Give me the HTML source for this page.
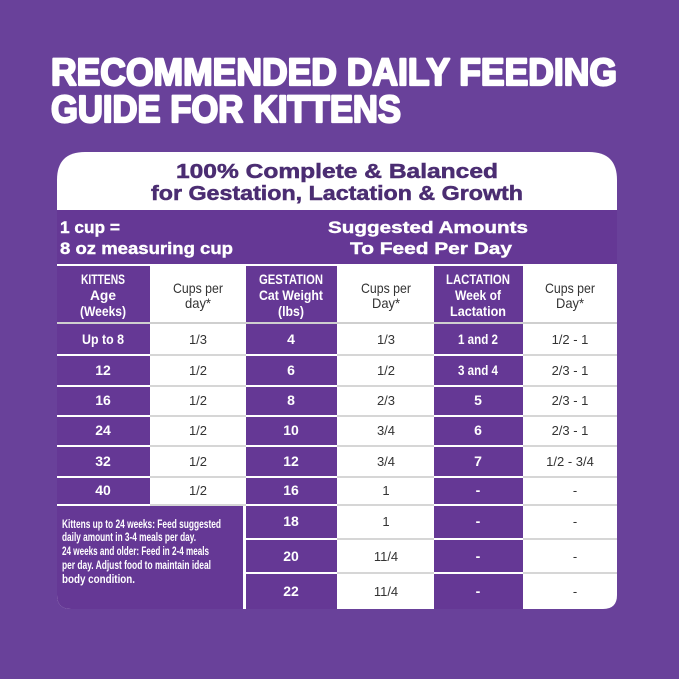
<!DOCTYPE html><html><head><style>body{margin:0;background:#69419a}svg{display:block}</style></head><body>
<svg width="679" height="679" viewBox="0 0 679 679" xmlns="http://www.w3.org/2000/svg" font-family="Liberation Sans, sans-serif" font-weight="bold">
<defs><clipPath id="c"><path d="M85,152 H589 Q617,152 617,180 V595 Q617,609 603,609 H71 Q57,609 57,595 V180 Q57,152 85,152 Z"/></clipPath></defs>
<rect width="679" height="679" fill="#69419a"/>
<g fill="#fff" stroke="#fff" stroke-width="2.2" stroke-linejoin="round">
<text x="51" y="85" font-size="38" textLength="566" lengthAdjust="spacingAndGlyphs">RECOMMENDED DAILY FEEDING</text>
<text x="51" y="122" font-size="38" textLength="350" lengthAdjust="spacingAndGlyphs">GUIDE FOR KITTENS</text>
</g>
<g clip-path="url(#c)">
<rect x="57" y="152" width="560" height="457" fill="#fff"/>
<rect x="57" y="210" width="560" height="54" fill="#653895"/>
<g fill="#653895">
<rect x="57" y="266" width="93" height="56"/><rect x="246" y="266" width="91" height="56"/><rect x="434" y="266" width="89" height="56"/>
</g>
<rect x="57" y="322" width="560" height="2" fill="#cfcfcf"/>
<g fill="#653895">
<rect x="57" y="324" width="93" height="30"/><rect x="57" y="356" width="93" height="29"/><rect x="57" y="387" width="93" height="28"/><rect x="57" y="417" width="93" height="28"/><rect x="57" y="447" width="93" height="29"/><rect x="57" y="478" width="93" height="26"/>
<rect x="57" y="506" width="186" height="103"/>
<rect x="246" y="324" width="91" height="30"/><rect x="246" y="356" width="91" height="29"/><rect x="246" y="387" width="91" height="28"/><rect x="246" y="417" width="91" height="28"/><rect x="246" y="447" width="91" height="29"/><rect x="246" y="478" width="91" height="26"/><rect x="246" y="506" width="91" height="32"/><rect x="246" y="540" width="91" height="32"/><rect x="246" y="574" width="91" height="35"/>
<rect x="434" y="324" width="89" height="30"/><rect x="434" y="356" width="89" height="29"/><rect x="434" y="387" width="89" height="28"/><rect x="434" y="417" width="89" height="28"/><rect x="434" y="447" width="89" height="29"/><rect x="434" y="478" width="89" height="26"/><rect x="434" y="506" width="89" height="32"/><rect x="434" y="540" width="89" height="32"/><rect x="434" y="574" width="89" height="35"/>
</g>
<g fill="#d6d6d6">
<rect x="150" y="354" width="96" height="2"/><rect x="150" y="385" width="96" height="2"/><rect x="150" y="415" width="96" height="2"/><rect x="150" y="445" width="96" height="2"/><rect x="150" y="476" width="96" height="2"/><rect x="150" y="504" width="96" height="2"/>
<rect x="337" y="354" width="97" height="2"/><rect x="337" y="385" width="97" height="2"/><rect x="337" y="415" width="97" height="2"/><rect x="337" y="445" width="97" height="2"/><rect x="337" y="476" width="97" height="2"/><rect x="337" y="504" width="97" height="2"/><rect x="337" y="538" width="97" height="2"/><rect x="337" y="572" width="97" height="2"/>
<rect x="523" y="354" width="94" height="2"/><rect x="523" y="385" width="94" height="2"/><rect x="523" y="415" width="94" height="2"/><rect x="523" y="445" width="94" height="2"/><rect x="523" y="476" width="94" height="2"/><rect x="523" y="504" width="94" height="2"/><rect x="523" y="538" width="94" height="2"/><rect x="523" y="572" width="94" height="2"/>
</g>
</g>
<g fill="#4b2d72" stroke="#4b2d72" stroke-width="0.5" text-anchor="middle" font-size="20">
<text x="337" y="178" textLength="322" lengthAdjust="spacingAndGlyphs">100% Complete &amp; Balanced</text>
<text x="337" y="200" textLength="372" lengthAdjust="spacingAndGlyphs">for Gestation, Lactation &amp; Growth</text>
</g>
<g fill="#fff" stroke="#fff" stroke-width="0.4" font-size="17">
<text x="60" y="233" textLength="60" lengthAdjust="spacingAndGlyphs">1 cup =</text>
<text x="60" y="254" textLength="173" lengthAdjust="spacingAndGlyphs">8 oz measuring cup</text>
<text x="428" y="233" text-anchor="middle" textLength="200" lengthAdjust="spacingAndGlyphs">Suggested Amounts</text>
<text x="431" y="254" text-anchor="middle" textLength="162" lengthAdjust="spacingAndGlyphs">To Feed Per Day</text>
</g>
<g font-size="14" text-anchor="middle" fill="#fff">
<text x="103" y="284" textLength="44" lengthAdjust="spacingAndGlyphs">KITTENS</text>
<text x="103" y="300" textLength="26" lengthAdjust="spacingAndGlyphs">Age</text>
<text x="103" y="316" textLength="46" lengthAdjust="spacingAndGlyphs">(Weeks)</text>
<text x="291" y="284" textLength="64" lengthAdjust="spacingAndGlyphs">GESTATION</text>
<text x="291" y="300" textLength="64" lengthAdjust="spacingAndGlyphs">Cat Weight</text>
<text x="291" y="316" textLength="26" lengthAdjust="spacingAndGlyphs">(lbs)</text>
<text x="478" y="284" textLength="64" lengthAdjust="spacingAndGlyphs">LACTATION</text>
<text x="478" y="300" textLength="46" lengthAdjust="spacingAndGlyphs">Week of</text>
<text x="478" y="316" textLength="56" lengthAdjust="spacingAndGlyphs">Lactation</text>
</g>
<g font-size="14" text-anchor="middle" fill="#333" font-weight="normal">
<text x="198" y="293" textLength="50" lengthAdjust="spacingAndGlyphs">Cups per</text><text x="198" y="308" textLength="26" lengthAdjust="spacingAndGlyphs">day*</text>
<text x="386" y="293" textLength="50" lengthAdjust="spacingAndGlyphs">Cups per</text><text x="386" y="308" textLength="28" lengthAdjust="spacingAndGlyphs">Day*</text>
<text x="570" y="293" textLength="50" lengthAdjust="spacingAndGlyphs">Cups per</text><text x="570" y="308" textLength="28" lengthAdjust="spacingAndGlyphs">Day*</text>
</g>
<g font-size="14" text-anchor="middle" fill="#fff">
<text x="103" y="344" textLength="42" lengthAdjust="spacingAndGlyphs">Up to 8</text><text x="103" y="375">12</text><text x="103" y="405">16</text><text x="103" y="435">24</text><text x="103" y="466">32</text><text x="103" y="495">40</text>
<text x="291" y="344">4</text><text x="291" y="375">6</text><text x="291" y="405">8</text><text x="291" y="435">10</text><text x="291" y="466">12</text><text x="291" y="495">16</text><text x="291" y="526">18</text><text x="291" y="561">20</text><text x="291" y="596">22</text>
<text x="478" y="344" textLength="40" lengthAdjust="spacingAndGlyphs">1 and 2</text><text x="478" y="375" textLength="40" lengthAdjust="spacingAndGlyphs">3 and 4</text><text x="478" y="405">5</text><text x="478" y="435">6</text><text x="478" y="466">7</text><text x="478" y="495">-</text><text x="478" y="526">-</text><text x="478" y="561">-</text><text x="478" y="596">-</text>
</g>
<g font-size="13" text-anchor="middle" fill="#333" font-weight="normal">
<text x="198" y="344">1/3</text><text x="198" y="375">1/2</text><text x="198" y="405">1/2</text><text x="198" y="435">1/2</text><text x="198" y="466">1/2</text><text x="198" y="495">1/2</text>
<text x="386" y="344">1/3</text><text x="386" y="375">1/2</text><text x="386" y="405">2/3</text><text x="386" y="435">3/4</text><text x="386" y="466">3/4</text><text x="386" y="495">1</text><text x="386" y="526">1</text><text x="386" y="561">11/4</text><text x="386" y="596">11/4</text>
<text x="570" y="344">1/2 - 1</text><text x="570" y="375">2/3 - 1</text><text x="570" y="405">2/3 - 1</text><text x="570" y="435">2/3 - 1</text><text x="570" y="466">1/2 - 3/4</text><text x="575" y="495">-</text><text x="575" y="526">-</text><text x="575" y="561">-</text><text x="575" y="596">-</text>
</g>
<g font-size="12" fill="#fff">
<text x="62" y="528" textLength="159" lengthAdjust="spacingAndGlyphs">Kittens up to 24 weeks: Feed suggested</text>
<text x="62" y="541" textLength="134" lengthAdjust="spacingAndGlyphs">daily amount in 3-4 meals per day.</text>
<text x="62" y="555" textLength="147" lengthAdjust="spacingAndGlyphs">24 weeks and older: Feed in 2-4 meals</text>
<text x="62" y="569" textLength="149" lengthAdjust="spacingAndGlyphs">per day. Adjust food to maintain ideal</text>
<text x="62" y="583" textLength="73" lengthAdjust="spacingAndGlyphs">body condition.</text>
</g>
</svg>
</body></html>
